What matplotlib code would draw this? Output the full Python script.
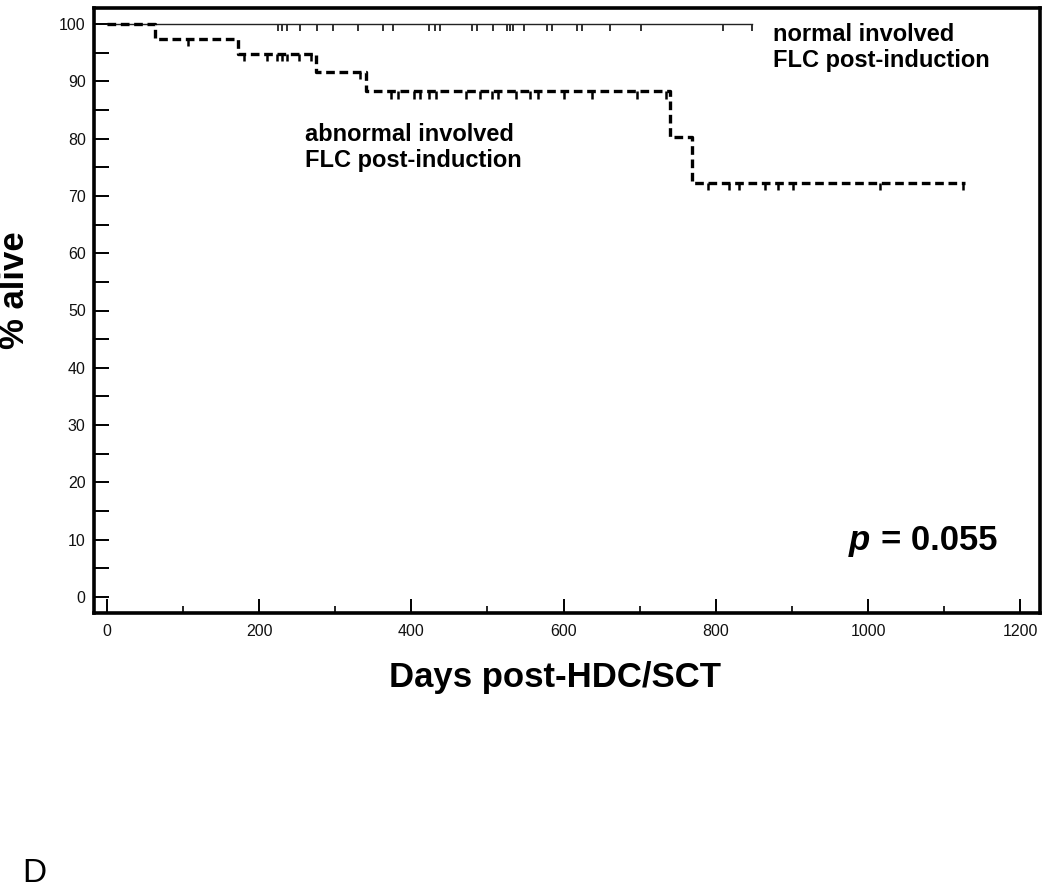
import matplotlib
matplotlib.use("Agg")
import matplotlib.pyplot as plt
from matplotlib.ticker import MultipleLocator

# ---- data ----
normal_end = 847
normal_censor = [225, 230, 236, 254, 276, 297, 330, 363, 376, 423, 431, 438,
                 480, 486, 507, 526, 530, 534, 548, 578, 585, 618, 624, 661,
                 702, 810, 847]

abn_event_times = [0, 63, 172, 275, 341, 740, 769]
abn_surv = [100, 97.4, 94.8, 91.7, 88.3, 80.3, 72.3]
abn_end = 1127
abn_censor = [106, 180, 210, 223, 230, 236, 253, 268, 332,
              373, 382, 404, 411, 423, 433, 472, 490, 506, 514, 537, 556,
              567, 600, 637, 696, 735,
              790, 817, 830, 865, 882, 902, 1016, 1125]

x_ticks = [0, 200, 400, 600, 800, 1000, 1200]
y_ticks = [0, 10, 20, 30, 40, 50, 60, 70, 80, 90, 100]

W, H = 1050, 892
fig = plt.figure(figsize=(W / 100, H / 100), dpi=100)
ax = fig.add_axes([94 / W, 1 - 613 / H, (1040 - 94) / W, (613 - 8) / H])

ax.set_xlim(-17, 1226)
ax.set_ylim(-2.8, 102.8)


def surv_at(times, surv, t):
    s = surv[0]
    for tt, ss in zip(times, surv):
        if t >= tt:
            s = ss
    return s


tick_len = 1.3

# normal group
ax.plot([0, normal_end], [100, 100], color="#222222", lw=1.0, zorder=3)
ax.vlines(normal_censor, 100 - tick_len, 100, color="#222222", lw=1.3, zorder=3)

# abnormal group (dashed step)
xs = abn_event_times + [abn_end]
ys = abn_surv + [abn_surv[-1]]
ax.step(xs, ys, where="post", color="black", lw=2.4,
        linestyle=(0, (2.6, 1.4)), zorder=4)
abn_c_y = [surv_at(abn_event_times, abn_surv, t) for t in abn_censor]
ax.vlines(abn_censor, [y - tick_len for y in abn_c_y], abn_c_y,
          color="black", lw=1.8, zorder=4)

# axes styling
for s in ax.spines.values():
    s.set_linewidth(2.6)
    s.set_color("black")

ax.set_xticks(x_ticks)
ax.xaxis.set_minor_locator(MultipleLocator(100))
ax.set_yticks(y_ticks)
ax.yaxis.set_minor_locator(MultipleLocator(5))
ax.tick_params(axis="y", which="both", direction="in", length=11, width=1.4,
               pad=6, labelsize=11.5)
ax.tick_params(axis="x", which="major", direction="in", length=10, width=1.4,
               pad=8, labelsize=11.5)
ax.tick_params(axis="x", which="minor", direction="in", length=5, width=1.2)
tick_fam = ["Liberation Sans Narrow", "Liberation Sans"]
for lab in ax.get_xticklabels() + ax.get_yticklabels():
    lab.set_family(tick_fam)
    lab.set_color("#111111")

bold = dict(family=["Liberation Sans", "DejaVu Sans"], fontweight="bold", color="black")

ax.text(875, 100.2, "normal involved\nFLC post-induction", fontsize=17,
        va="top", ha="left", linespacing=1.2, **bold)
ax.text(260, 82.8, "abnormal involved\nFLC post-induction", fontsize=17,
        va="top", ha="left", linespacing=1.2, **bold)
ax.text(1170, 9.8, "= 0.055", fontsize=25, va="center", ha="right", **bold)
ax.text(975, 9.8, "p", fontsize=25, va="center", ha="left",
        family=["Liberation Sans", "DejaVu Sans"], fontweight="bold",
        fontstyle="italic", color="black")

fig.text(15 / W, 1 - 290 / H, "% alive", rotation=90, fontsize=25,
         ha="center", va="center", **bold)
fig.text(555 / W, 1 - 677 / H, "Days post-HDC/SCT", fontsize=25,
         ha="center", va="center", **bold)
fig.text(22 / W, 1 - 874 / H, "D", fontsize=24, ha="left", va="center",
         family=["Liberation Sans", "DejaVu Sans"], color="black")

fig.savefig("out.png", dpi=100)
